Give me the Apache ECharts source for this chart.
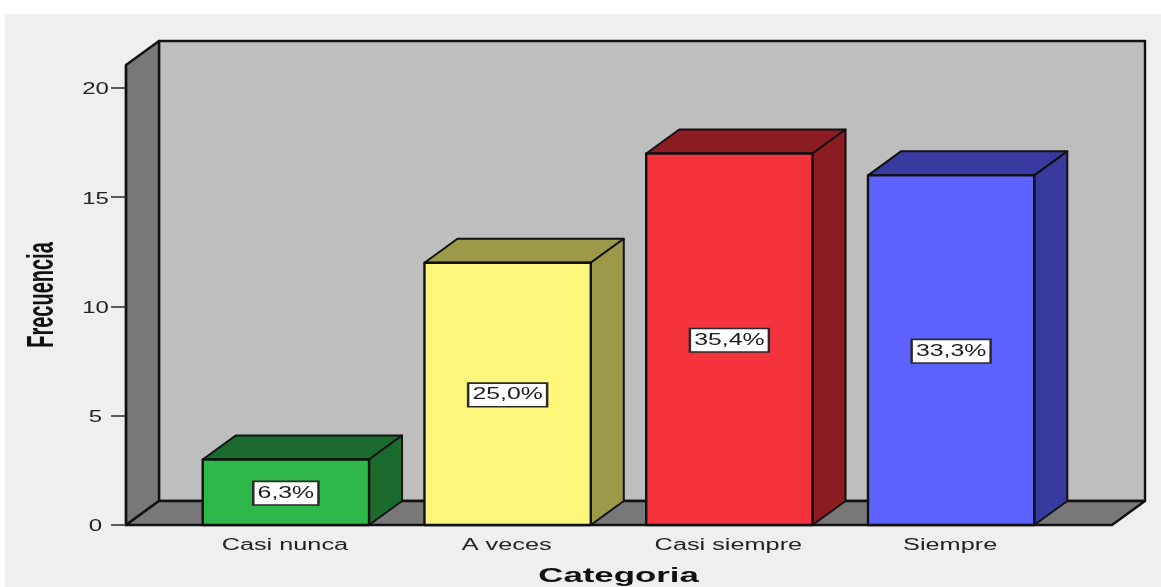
<!DOCTYPE html>
<html>
<head>
<meta charset="utf-8">
<style>
  html, body { margin: 0; padding: 0; background: #fff; }
  #chart { width: 1161px; height: 587px; }
</style>
<script src="https://cdn.jsdelivr.net/npm/echarts@6/dist/echarts.min.js"></script>
</head>
<body>
<div id="chart"></div>
<script>
const categories = ['Casi nunca', 'A veces', 'Casi siempre', 'Siempre'];
const frequencies = [3, 12, 17, 16];
const percentLabels = ['6,3%', '25,0%', '35,4%', '33,3%'];
const frontColors = ['#2eb84a', '#fcf77a', '#f4333c', '#5c62ff'];
const shadeColors = ['#1c6b2e', '#9c9a48', '#8c1c22', '#373a9e'];
const yTicks = [0, 5, 10, 15, 20];
const xTitle = 'Categoria';
const yTitle = 'Frecuencia';

// Oblique projection used for the 3D box look
const DEPTH_X = 33;
const DEPTH_Y = -24;
const FONT = '"Liberation Sans", Arial, sans-serif';
const INK = '#111';
const LABEL_INK = '#222';

const chart = echarts.init(document.getElementById('chart'));

function wideText(x, y, text, size, extra) {
  return Object.assign({
    type: 'text', x: x, y: y, scaleX: 1.58, z2: 5,
    style: {
      text: text, x: 0, y: 0, align: 'center', verticalAlign: 'middle',
      fontFamily: FONT, fontSize: size, fill: LABEL_INK
    }
  }, extra || {});
}

function poly(points, fill, width, z2) {
  return {
    type: 'polygon', z2: z2 || 0,
    shape: { points: points },
    style: { fill: fill, stroke: INK, lineWidth: width, lineJoin: 'round' }
  };
}

// Back wall, side wall and floor span beyond the category band
function renderRoom(params, api) {
  const cs = params.coordSys;
  const left = cs.x - 49, right = cs.x + cs.width + 50;
  const top = cs.y, bottom = cs.y + cs.height;
  const dx = DEPTH_X, dy = DEPTH_Y;
  return {
    type: 'group',
    children: [
      poly([[left + dx, top + dy], [right + dx, top + dy], [right + dx, bottom + dy], [left + dx, bottom + dy]], '#bebebe', 2.4),
      poly([[left, top], [left + dx, top + dy], [left + dx, bottom + dy], [left, bottom]], '#787878', 2.4),
      poly([[left, bottom], [left + dx, bottom + dy], [right + dx, bottom + dy], [right, bottom]], '#787878', 2.4)
    ]
  };
}

function renderBar(params, api) {
  const i = api.value(0);
  const base = api.coord([i, 0]);
  const tip = api.coord([i, api.value(1)]);
  const w = api.size([1, 0])[0] * 0.75;
  const l = base[0] - w / 2, r = base[0] + w / 2;
  const t = tip[1], b = base[1];
  const dx = DEPTH_X, dy = DEPTH_Y;
  const mid = api.coord([i, api.value(1) / 2]);
  return {
    type: 'group',
    children: [
      poly([[l, t], [l + dx, t + dy], [r + dx, t + dy], [r, t]], shadeColors[i], 2),
      poly([[r, t], [r + dx, t + dy], [r + dx, b + dy], [r, b]], shadeColors[i], 2),
      poly([[l, t], [r, t], [r, b], [l, b]], frontColors[i], 2.4),
      {
        type: 'text', x: mid[0], y: mid[1] + 1, scaleX: 1.55, z2: 6,
        style: {
          text: percentLabels[i], x: 0, y: 0, align: 'center', verticalAlign: 'middle',
          fontFamily: FONT, fontSize: 16, fill: '#1c1c1c',
          backgroundColor: '#fff', borderColor: '#2a2a2a', borderWidth: 1.6,
          padding: [3, 2, 3, 2]
        }
      }
    ]
  };
}

function renderCategoryLabel(params, api) {
  const i = api.value(0);
  const p = api.coord([i, 0]);
  return wideText(p[0] - 1, p[1] + 20.5, categories[i], 16);
}

function renderValueLabel(params, api) {
  const p = api.coord([0, api.value(1)]);
  return wideText(params.coordSys.x - 79.5, p[1] + 2, String(api.value(1)), 16, { scaleX: 1.5 });
}

function renderTitles(params) {
  const cs = params.coordSys;
  const cx = cs.x + cs.width / 2;
  const cy = cs.y + cs.height / 2;
  return {
    type: 'group',
    children: [
      {
        type: 'text', x: cx, y: cs.y + cs.height + 51.5, scaleX: 1.74,
        style: {
          text: xTitle, x: 0, y: 0, align: 'center', verticalAlign: 'middle',
          fontFamily: FONT, fontWeight: 'bold', fontSize: 20, fill: '#111'
        }
      },
      {
        type: 'text', x: cs.x - 132.5, y: cy, rotation: Math.PI / 2, scaleY: 1.85,
        style: {
          text: yTitle, x: 0, y: 0, align: 'center', verticalAlign: 'middle',
          fontFamily: FONT, fontWeight: 'bold', fontSize: 20, fill: '#111'
        }
      }
    ]
  };
}

chart.setOption({
  animation: false,
  backgroundColor: '#fff',
  graphic: [{
    type: 'rect', z: -10, silent: true,
    shape: { x: 5, y: 14, width: 1156, height: 573 },
    style: { fill: '#efefef' }
  }],
  grid: { left: 175, right: 99, top: 65, bottom: 62 },
  xAxis: {
    type: 'category',
    data: categories,
    axisLine: { show: false },
    axisTick: { alignWithLabel: true, length: 10, lineStyle: { color: '#555', width: 2.5 } },
    axisLabel: { show: false },
    z: 8
  },
  yAxis: {
    type: 'value',
    min: 0,
    max: 21.05,
    offset: 49,
    splitLine: { show: false },
    axisLine: { show: true, lineStyle: { color: INK, width: 2.4 } },
    axisTick: { show: true, length: 15, customValues: yTicks, lineStyle: { color: '#333', width: 1.6 } },
    axisLabel: { show: false },
    z: 8
  },
  series: [
    { type: 'custom', name: 'room', silent: true, z: 1, data: [[0, 0]], renderItem: renderRoom },
    {
      type: 'custom', name: 'Frecuencia', silent: true, z: 2,
      data: frequencies.map((v, i) => [i, v]),
      renderItem: renderBar
    },
    {
      type: 'custom', name: 'categories', silent: true, z: 3,
      data: categories.map((c, i) => [i, 0]),
      renderItem: renderCategoryLabel
    },
    {
      type: 'custom', name: 'ticks', silent: true, z: 3,
      data: yTicks.map(v => [0, v]),
      renderItem: renderValueLabel
    },
    { type: 'custom', name: 'titles', silent: true, z: 3, data: [[0, 0]], renderItem: renderTitles }
  ]
});
</script>
</body>
</html>
